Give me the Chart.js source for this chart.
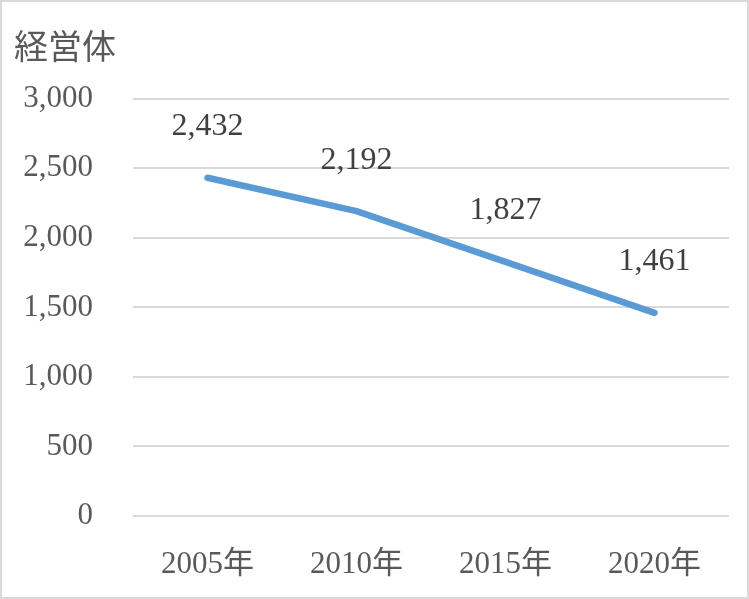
<!DOCTYPE html>
<html>
<head>
<meta charset="utf-8">
<script src="https://cdn.jsdelivr.net/npm/chart.js@4"></script>
<style>
  html, body { margin: 0; padding: 0; background: #fff; }
  #wrap { width: 749px; height: 599px; box-sizing: border-box; border: 2px solid #d9d9d9; }
  #chart { display: block; }
</style>
</head>
<body>
<div id="wrap"><canvas id="chart" width="745" height="595"></canvas></div>
<script>
// 経営体数の推移
const categorias = ['2005年', '2010年', '2015年', '2020年'];
const valores = [2432, 2192, 1827, 1461];
const tituloEje = '経営体';

const fuente = '"Liberation Serif", "Noto Sans CJK JP", serif';
const gris = '#595959';

// etiquetas de datos encima de cada punto
const etiquetasPlugin = {
    id: 'etiquetas',
    afterDatasetsDraw(chart) {
        const ctx = chart.ctx;
        const meta = chart.getDatasetMeta(0);
        ctx.save();
        ctx.font = '32px ' + fuente;
        ctx.fillStyle = '#404040';
        ctx.textAlign = 'center';
        ctx.textBaseline = 'middle';
        meta.data.forEach((p, i) => {
            ctx.fillText(valores[i].toLocaleString('en-US'), p.x, p.y - 51);
        });
        ctx.restore();
    }
};

new Chart(document.getElementById('chart').getContext('2d'), {
    type: 'line',
    data: {
        labels: categorias,
        datasets: [{
            data: valores,
            borderColor: '#5b9bd5',
            borderWidth: 6.5,
            borderCapStyle: 'round',
            borderJoinStyle: 'round',
            pointRadius: 0,
            tension: 0
        }]
    },
    options: {
        responsive: false,
        animation: false,
        layout: { padding: { left: 12, right: 18, top: 0, bottom: 0 } },
        plugins: {
            legend: { display: false },
            tooltip: { enabled: false },
            title: {
                display: true,
                text: tituloEje,
                align: 'start',
                color: gris,
                font: { family: fuente, size: 34, weight: 'normal' },
                padding: { top: 28, bottom: 28 }
            }
        },
        scales: {
            x: {
                offset: true,
                grid: { display: false },
                border: { display: false },
                ticks: { color: gris, font: { family: fuente, size: 31 }, padding: 22 },
                afterFit: s => { s.height = 81; }
            },
            y: {
                min: 0,
                max: 3000,
                ticks: {
                    stepSize: 500,
                    color: gris,
                    font: { family: fuente, size: 31 },
                    padding: 40,
                    callback: v => v.toLocaleString('en-US')
                },
                grid: { color: '#d9d9d9', lineWidth: 2, drawTicks: false },
                border: { display: false },
                afterFit: s => { s.width = 119; }
            }
        }
    },
    plugins: [etiquetasPlugin]
});
</script>
</body>
</html>
